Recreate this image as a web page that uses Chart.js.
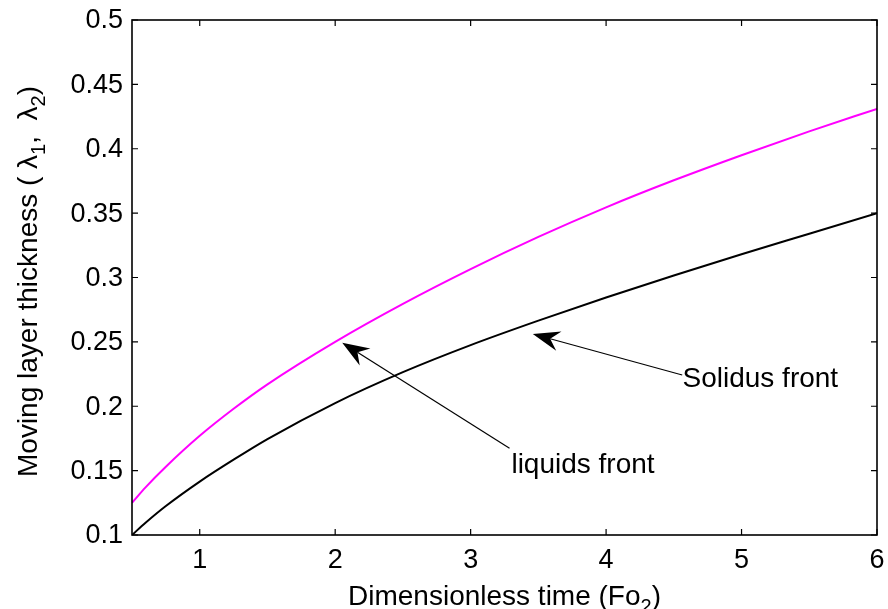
<!DOCTYPE html>
<html>
<head>
<meta charset="utf-8">
<script src="https://cdn.jsdelivr.net/npm/chart.js@4.4.1/dist/chart.umd.min.js"></script>
<style>
  html, body { margin: 0; padding: 0; background: #fff; }
  canvas { display: block; }
</style>
</head>
<body>
<canvas id="fronts" width="888" height="609"></canvas>
<script>
// dimensionless time (Fo2) samples
const foValues = [0.5, 0.6, 0.75, 1, 1.25, 1.5, 2, 2.5, 3, 3.5, 4, 4.5, 5, 5.5, 6];
// liquidus front thickness (magenta)
const liquidus = [0.125, 0.137, 0.153, 0.177, 0.198, 0.217, 0.250, 0.2795, 0.3065, 0.3315, 0.3545, 0.3755, 0.395, 0.4135, 0.431];
// solidus front thickness (black)
const solidus = [0.100, 0.1095, 0.1225, 0.1415, 0.1585, 0.1745, 0.2025, 0.2265, 0.2475, 0.2665, 0.2845, 0.3015, 0.318, 0.334, 0.350];

const xTicks = [1, 2, 3, 4, 5, 6];
const yTicks = [0.1, 0.15, 0.2, 0.25, 0.3, 0.35, 0.4, 0.45, 0.5];
const yTickLabels = ['0.1', '0.15', '0.2', '0.25', '0.3', '0.35', '0.4', '0.45', '0.5'];

// arrows: text position, tail and tip in data units
const notes = [
  { text: 'liquids front', at: [3.301, 0.1482], tail: [3.287, 0.1673], tip: [2.052, 0.2494] },
  { text: 'Solidus front', at: [4.564, 0.2147], tail: [4.562, 0.2243], tip: [3.459, 0.2561] }
];

const FONT = '"Liberation Sans", Arial, Helvetica, sans-serif';

function toPoints(xs, ys) {
  return xs.map((x, i) => ({ x: x, y: ys[i] }));
}

// draw a string made of normal and subscript pieces, centred on 0
function drawPieces(ctx, pieces, size) {
  let total = 0;
  pieces.forEach(p => {
    ctx.font = (p.sub ? Math.round(size * 0.7) : size) + 'px ' + FONT;
    p.w = ctx.measureText(p.t).width;
    total += p.w;
  });
  let x = -total / 2;
  pieces.forEach(p => {
    ctx.font = (p.sub ? Math.round(size * 0.7) : size) + 'px ' + FONT;
    ctx.fillText(p.t, x, p.sub ? 8 : 0);
    x += p.w;
  });
}

const matlabFrame = {
  id: 'matlabFrame',
  afterDatasetsDraw(chart) {
    const ctx = chart.ctx;
    const a = chart.chartArea;
    const xs = chart.scales.x, ys = chart.scales.y;
    ctx.save();
    ctx.strokeStyle = '#000';
    ctx.fillStyle = '#000';

    // box
    ctx.lineWidth = 1.6;
    ctx.strokeRect(a.left, a.top, a.right - a.left, a.bottom - a.top);

    // inward ticks
    const tl = 6;
    ctx.lineWidth = 1.2;
    ctx.beginPath();
    xTicks.forEach(v => {
      const px = xs.getPixelForValue(v);
      ctx.moveTo(px, a.bottom); ctx.lineTo(px, a.bottom - tl);
      ctx.moveTo(px, a.top); ctx.lineTo(px, a.top + tl);
    });
    yTicks.forEach(v => {
      const py = ys.getPixelForValue(v);
      ctx.moveTo(a.left, py); ctx.lineTo(a.left + tl, py);
      ctx.moveTo(a.right, py); ctx.lineTo(a.right - tl, py);
    });
    ctx.stroke();

    // tick labels
    ctx.font = '27px ' + FONT;
    ctx.textAlign = 'center';
    ctx.textBaseline = 'alphabetic';
    xTicks.forEach(v => {
      ctx.fillText(String(v), xs.getPixelForValue(v), a.bottom + 33);
    });
    ctx.textAlign = 'right';
    ctx.textBaseline = 'middle';
    yTicks.forEach((v, i) => {
      ctx.fillText(yTickLabels[i], a.left - 9, ys.getPixelForValue(v) + 1);
    });

    // axis titles
    ctx.textAlign = 'left';
    ctx.textBaseline = 'alphabetic';
    ctx.save();
    ctx.translate((a.left + a.right) / 2, a.bottom + 70);
    drawPieces(ctx, [
      { t: 'Dimensionless time (Fo' }, { t: '2', sub: true }, { t: ')' }
    ], 28);
    ctx.restore();

    ctx.save();
    ctx.translate(37, (a.top + a.bottom) / 2 + 4);
    ctx.rotate(-Math.PI / 2);
    drawPieces(ctx, [
      { t: 'Moving layer thickness ( \u03bb' }, { t: '1', sub: true },
      { t: ',  \u03bb' }, { t: '2', sub: true }, { t: ')' }
    ], 28);
    ctx.restore();

    // annotations with arrows
    notes.forEach(n => {
      const tx = xs.getPixelForValue(n.tail[0]), ty = ys.getPixelForValue(n.tail[1]);
      const hx = xs.getPixelForValue(n.tip[0]), hy = ys.getPixelForValue(n.tip[1]);
      const len = Math.hypot(hx - tx, hy - ty);
      const ux = (hx - tx) / len, uy = (hy - ty) / len;
      const nx = -uy, ny = ux;
      const L = 27, W = 10, N = 18;
      ctx.lineWidth = 1.2;
      ctx.beginPath();
      ctx.moveTo(tx, ty);
      ctx.lineTo(hx - ux * N, hy - uy * N);
      ctx.stroke();
      ctx.beginPath();
      ctx.moveTo(hx, hy);
      ctx.lineTo(hx - ux * L + nx * W, hy - uy * L + ny * W);
      ctx.lineTo(hx - ux * N, hy - uy * N);
      ctx.lineTo(hx - ux * L - nx * W, hy - uy * L - ny * W);
      ctx.closePath();
      ctx.fill();

      ctx.font = '28px ' + FONT;
      ctx.textAlign = 'left';
      ctx.textBaseline = 'alphabetic';
      ctx.fillText(n.text, xs.getPixelForValue(n.at[0]), ys.getPixelForValue(n.at[1]));
    });

    ctx.restore();
  }
};

const CHART = document.getElementById('fronts');
const frontsChart = new Chart(CHART, {
  type: 'line',
  data: {
    datasets: [
      {
        label: 'liquidus',
        data: toPoints(foValues, liquidus),
        borderColor: '#ff00ff',
        borderWidth: 2,
        pointRadius: 0,
        cubicInterpolationMode: 'monotone',
        fill: false
      },
      {
        label: 'solidus',
        data: toPoints(foValues, solidus),
        borderColor: '#000000',
        borderWidth: 2,
        pointRadius: 0,
        cubicInterpolationMode: 'monotone',
        fill: false
      }
    ]
  },
  options: {
    responsive: false,
    animation: false,
    devicePixelRatio: 1,
    layout: { padding: { top: 20, right: 11, left: 0, bottom: 0 } },
    plugins: {
      legend: { display: false },
      tooltip: { enabled: false }
    },
    scales: {
      x: {
        type: 'linear',
        min: 0.5,
        max: 6,
        grid: { display: false },
        border: { display: false },
        ticks: { display: false },
        afterBuildTicks: s => { s.ticks = xTicks.map(v => ({ value: v })); },
        afterFit: s => { s.height = 74; }
      },
      y: {
        type: 'linear',
        min: 0.1,
        max: 0.5,
        grid: { display: false },
        border: { display: false },
        ticks: { display: false },
        afterBuildTicks: s => { s.ticks = yTicks.map(v => ({ value: v })); },
        afterFit: s => { s.width = 132; }
      }
    }
  },
  plugins: [matlabFrame]
});
</script>
</body>
</html>
